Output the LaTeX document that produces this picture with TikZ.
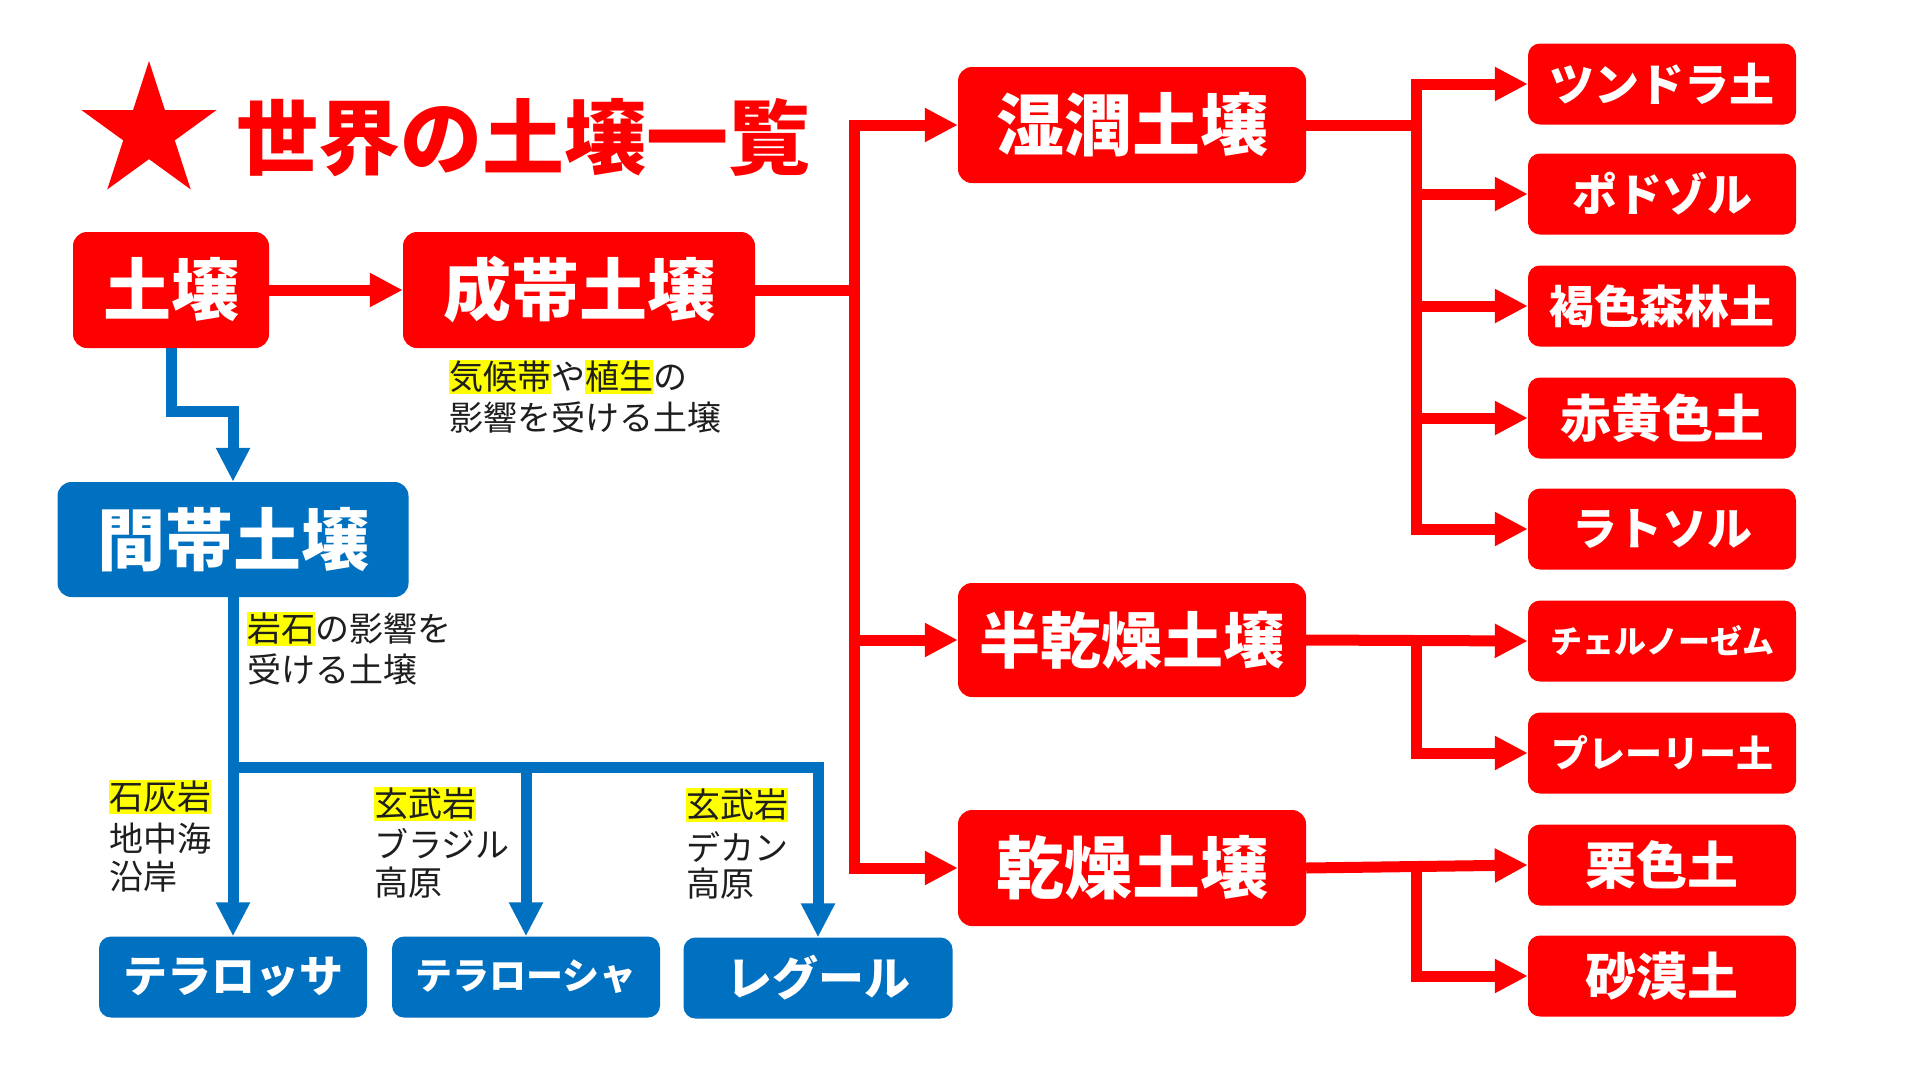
\documentclass[tikz,border=0pt]{standalone}
\usepackage{fontspec}
\newfontfamily\cjk{Noto Sans CJK JP}
\usetikzlibrary{arrows.meta,shapes.geometric}
\definecolor{myred}{RGB}{255,0,0}
\definecolor{myblue}{RGB}{0,112,192}
\definecolor{hlyel}{RGB}{255,255,0}
\definecolor{txtc}{RGB}{30,30,30}
\newcommand\fsz[1]{\fontsize{#1}{#1}\selectfont}
\newcommand\hlt[1]{{\setlength{\fboxsep}{0pt}\colorbox{hlyel}{\rule[-0.12em]{0pt}{1em}#1}}}
\begin{document}
\begin{tikzpicture}[x=1pt,y=-1pt,
  boxbase/.style={rectangle, inner sep=0pt, text=white},
  redbig/.style={boxbase, fill=myred, rounded corners=14pt, minimum width=348pt, minimum height=116pt, font=\cjk\bfseries\fsz{68}},
  redsmall/.style={boxbase, fill=myred, rounded corners=12pt, minimum width=268pt, minimum height=81pt},
  bluebig/.style={boxbase, fill=myblue, rounded corners=14pt, minimum width=351pt, minimum height=115pt, font=\cjk\bfseries\fsz{68}},
  bluesmall/.style={boxbase, fill=myblue, rounded corners=12pt, minimum width=268pt, minimum height=81pt},
  note/.style={inner sep=0pt, anchor=west, text=txtc, font=\cjk\fsz{34}},
  rline/.style={draw=myred, line width=11pt},
  rarrow/.style={rline, -{Triangle[length=33pt,width=32pt]}},
  barrow/.style={draw=myblue, line width=11pt, -{Triangle[length=34pt,width=32pt]}},
  bline/.style={draw=myblue, line width=11pt}
]
\useasboundingbox (0,0) rectangle (1920,1080);
\fill[white] (0,0) rectangle (1920,1080);

% title
\node[star, star points=5, star point ratio=2.618, fill=myred, inner sep=0pt, minimum size=142pt] (star) at (149,132) {};
\node[inner sep=0pt, text=myred, font=\cjk\bfseries\fsz{82}] (title) at (523,138) {世界の土壌一覧};

% main boxes
\node[redbig, minimum width=196pt] (soil) at (171,290) {土壌};
\node[redbig, minimum width=352pt] (zonal) at (579,290) {成帯土壌};
\node[redbig] (humid) at (1132,125) {湿潤土壌};
\node[redbig, minimum height=114pt, font=\cjk\bfseries\fsz{61}] (semi) at (1132,640) {半乾燥土壌};
\node[redbig] (arid) at (1132,868) {乾燥土壌};
\node[bluebig] (intra) at (233,539.5) {間帯土壌};

% right boxes
\node[redsmall, font=\cjk\bfseries\fsz{45}] (tundra) at (1662,84) {ツンドラ土};
\node[redsmall, font=\cjk\bfseries\fsz{45}] (podzol) at (1662,194) {ポドゾル};
\node[redsmall, font=\cjk\bfseries\fsz{45}] (brown) at (1662,306) {褐色森林土};
\node[redsmall, font=\cjk\bfseries\fsz{51}] (redyel) at (1662,418) {赤黄色土};
\node[redsmall, font=\cjk\bfseries\fsz{45}] (latosol) at (1662,529) {ラトソル};
\node[redsmall, font=\cjk\bfseries\fsz{32}] (cherno) at (1662,641) {チェルノーゼム};
\node[redsmall, font=\cjk\bfseries\fsz{37}] (prairie) at (1662,753) {プレーリー土};
\node[redsmall, font=\cjk\bfseries\fsz{51}] (chest) at (1662,865) {栗色土};
\node[redsmall, font=\cjk\bfseries\fsz{51}] (desert) at (1662,976) {砂漠土};

% bottom boxes
\node[bluesmall, font=\cjk\bfseries\fsz{44}] (rossa) at (233,977) {テラロッサ};
\node[bluesmall, font=\cjk\bfseries\fsz{37}] (roxa) at (526,977) {テラローシャ};
\node[bluesmall, minimum width=269pt, font=\cjk\bfseries\fsz{46}] (regur) at (818,978) {レグール};

% annotations
\node[note] (n1a) at (449,377) {\hlt{気候帯}や\hlt{植生}の};
\node[note] (n1b) at (449,418) {影響を受ける土壌};
\node[note] (n2a) at (247,629) {\hlt{岩石}の影響を};
\node[note] (n2b) at (247,670) {受ける土壌};
\node[note] (n3a) at (109,797) {\hlt{石灰岩}};
\node[note] (n3b) at (109,839) {地中海};
\node[note] (n3c) at (109,877) {沿岸};
\node[note] (n4a) at (374,804) {\hlt{玄武岩}};
\node[note] (n4b) at (374,844) {ブラジル};
\node[note] (n4c) at (374,883) {高原};
\node[note] (n5a) at (686,805) {\hlt{玄武岩}};
\node[note] (n5b) at (686,847) {デカン};
\node[note] (n5c) at (686,884) {高原};

% junction coordinates
\coordinate (j1) at (854,290);
\coordinate (j2) at (1416,125);
\coordinate (j3) at (1416,640);
\coordinate (j4) at (1416,866);
\coordinate (b1) at (171,411);
\coordinate (b2) at (233,767);

% red connectors
\draw[rarrow] (soil.east) -- (zonal.west);
\draw[rline] (zonal.east) -- (j1);
\draw[rarrow] (j1) |- (humid.west);
\draw[rarrow] (j1) |- (semi.west);
\draw[rarrow] (j1) |- (arid.west);

\draw[rline] (humid.east) -- (j2);
\draw[rarrow] (j2) |- (tundra.west);
\draw[rarrow] (j2) |- (podzol.west);
\draw[rarrow] (j2) |- (brown.west);
\draw[rarrow] (j2) |- (redyel.west);
\draw[rarrow] (j2) |- (latosol.west);

\draw[rarrow] (semi.east) -- (cherno.west);
\draw[rarrow] (j3) |- (prairie.west);

\draw[rarrow] (arid.east) -- (chest.west);
\draw[rarrow] (j4) |- (desert.west);

% blue connectors
\draw[barrow] (soil.south) -- (b1) -| (intra.north);
\draw[barrow] (intra.south) -- (rossa.north);
\draw[barrow] (b2) -| (regur.north);
\draw[barrow] (b2 -| roxa.north) -- (roxa.north);
\end{tikzpicture}
\end{document}
